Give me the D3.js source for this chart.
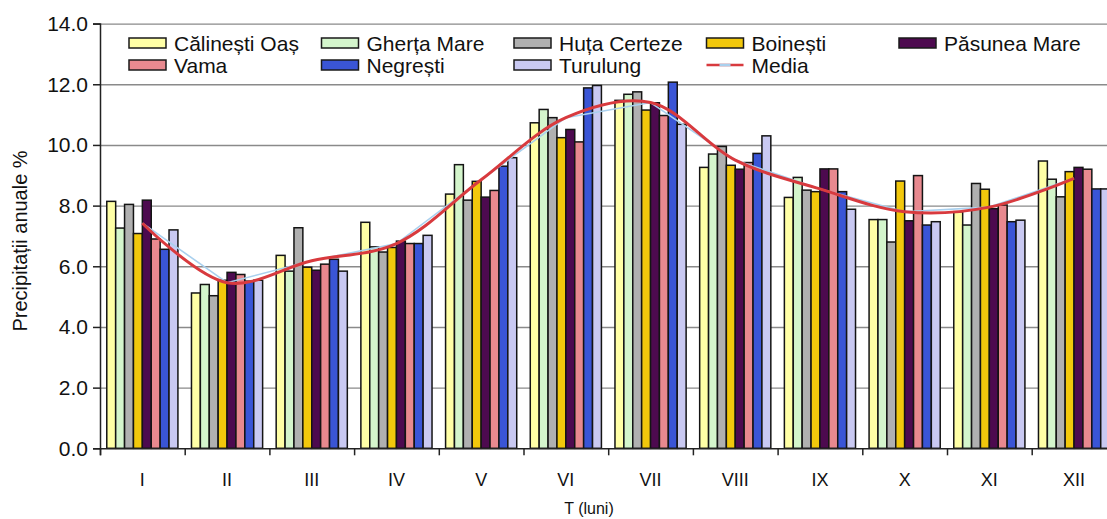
<!DOCTYPE html>
<html>
<head>
<meta charset="utf-8">
<script src="https://cdn.jsdelivr.net/npm/d3@7"></script>
<style>
  body { margin: 0; background: #fff; }
  text { font-family: "Liberation Sans", Arial, sans-serif; fill: #111; }
</style>
</head>
<body>
<div id="chart"></div>
<script>
// data (% of yearly precipitation)
var months = ["I", "II", "III", "IV", "V", "VI", "VII", "VIII", "IX", "X", "XI", "XII"];
var stations = ["Călinești Oaș", "Gherța Mare", "Huța Certeze", "Boinești", "Păsunea Mare", "Vama", "Negrești", "Turulung"];
var calinesti = [8.14, 5.12, 6.36, 7.45, 8.38, 10.73, 11.47, 9.26, 8.27, 7.54, 7.80, 9.47];
var gherta    = [7.26, 5.40, 5.84, 6.64, 9.35, 11.17, 11.67, 9.70, 8.93, 7.54, 7.36, 8.87];
var huta      = [8.04, 5.03, 7.27, 6.47, 8.18, 10.90, 11.75, 9.95, 8.51, 6.80, 8.73, 8.29];
var boinesti  = [7.08, 5.54, 5.97, 6.62, 8.80, 10.24, 11.15, 9.33, 8.46, 8.81, 8.54, 9.12];
var pasunea   = [8.18, 5.80, 5.87, 6.83, 8.28, 10.51, 11.39, 9.20, 9.21, 7.50, 7.90, 9.26];
var vama      = [6.90, 5.73, 6.07, 6.75, 8.50, 10.10, 10.97, 9.42, 9.21, 8.99, 8.02, 9.20];
var negresti  = [6.56, 5.51, 6.23, 6.75, 9.30, 11.88, 12.07, 9.72, 8.46, 7.36, 7.47, 8.55];
var turulung  = [7.20, 5.54, 5.84, 7.02, 9.58, 11.96, 10.68, 10.30, 7.88, 7.47, 7.52, 8.55];
var media     = [7.42, 5.46, 6.18, 6.75, 8.85, 10.90, 11.40, 9.50, 8.55, 7.80, 7.95, 8.90];
var yTicks = [0, 2, 4, 6, 8, 10, 12, 14];

var series = [calinesti, gherta, huta, boinesti, pasunea, vama, negresti, turulung];
var colors = ["#ffffa6", "#d4f5cc", "#b0b0b0", "#f2c80c", "#4d0a4f", "#e8898f", "#3a55d6", "#c9c9f2"];

var width = 1107, height = 519;
var left = 100, right = 100 + 12 * 84.7;   // plot runs past the right edge of the picture
var top0 = 23.6, bottom0 = 448.3;

var svg = d3.select("#chart").append("svg")
  .attr("width", width)
  .attr("height", height);

var x = d3.scaleBand().domain(months).range([left, right])
  .paddingInner(0.16).paddingOuter(0.08);
var xs = d3.scaleBand().domain(stations).range([0, x.bandwidth()]);
var xEdge = d3.scaleLinear().domain([0, 12]).range([left, right]);
var y = d3.scaleLinear().domain([0, 14]).range([bottom0, top0]);

// grid lines
svg.append("g")
  .attr("transform", "translate(" + left + ",0)")
  .call(d3.axisLeft(y).tickValues(yTicks.slice(1)).tickSize(-(right - left)).tickFormat(""))
  .call(function (g) { g.select(".domain").remove(); })
  .selectAll("line")
  .attr("stroke", "#8a8a8a")
  .attr("stroke-width", 1.4);

// bars
var groups = svg.append("g").selectAll("g")
  .data(months)
  .enter()
  .append("g")
  .attr("transform", function (d) { return "translate(" + x(d) + ",0)"; });

groups.selectAll("rect")
  .data(function (m, i) {
    return stations.map(function (s, j) { return { station: s, idx: j, value: series[j][i] }; });
  })
  .enter()
  .append("rect")
  .attr("x", function (d) { return xs(d.station); })
  .attr("width", xs.bandwidth())
  .attr("y", function (d) { return y(d.value); })
  .attr("height", function (d) { return y(0) - y(d.value); })
  .attr("fill", function (d) { return colors[d.idx]; })
  .attr("stroke", "#141414")
  .attr("stroke-width", 1.5);

// Media: pale straight line under a smoothed red one
var cx = function (d, i) { return x(months[i]) + x.bandwidth() / 2; };
svg.append("path")
  .datum(media)
  .attr("fill", "none")
  .attr("stroke", "#a9d0ee")
  .attr("stroke-width", 1.6)
  .attr("d", d3.line().x(cx).y(function (d) { return y(d); }));
svg.append("path")
  .datum(media)
  .attr("fill", "none")
  .attr("stroke", "#d83a3e")
  .attr("stroke-width", 3)
  .attr("d", d3.line().x(cx).y(function (d) { return y(d); }).curve(d3.curveCatmullRom.alpha(0.5)));

// y axis
var yAxis = svg.append("g")
  .attr("transform", "translate(" + left + ",0)")
  .call(d3.axisLeft(y).tickValues(yTicks).tickSize(7).tickPadding(5).tickFormat(d3.format(".1f")));
yAxis.select(".domain").attr("stroke", "#222").attr("stroke-width", 1.5);
yAxis.selectAll("line").attr("stroke", "#222").attr("stroke-width", 1.5);
yAxis.selectAll("text").attr("font-size", 21).attr("fill", "#111");

// x axis: ticks on month boundaries, labels in the middle
var xAxis = svg.append("g")
  .attr("transform", "translate(0," + bottom0 + ")")
  .call(d3.axisBottom(xEdge).ticks(12).tickSize(7).tickFormat(""));
xAxis.select(".domain").attr("stroke", "#222").attr("stroke-width", 1.5);
xAxis.selectAll("line").attr("stroke", "#222").attr("stroke-width", 1.5);

var xLabels = svg.append("g")
  .attr("transform", "translate(0," + bottom0 + ")")
  .call(d3.axisBottom(x).tickSize(0).tickPadding(25));
xLabels.select(".domain").remove();
xLabels.selectAll("text").attr("font-size", 18).attr("fill", "#111");

svg.append("text")
  .attr("x", 589)
  .attr("y", 514)
  .attr("text-anchor", "middle")
  .attr("font-size", 16)
  .text("T (luni)");

svg.append("text")
  .attr("transform", "translate(27," + ((top0 + bottom0) / 2 + 5) + ") rotate(-90)")
  .attr("text-anchor", "middle")
  .attr("font-size", 20)
  .text("Precipitații anuale %");

// legend
var legendItems = stations.concat(["Media"]);
var legend = svg.append("g").selectAll("g")
  .data(legendItems)
  .enter()
  .append("g")
  .attr("transform", function (d, i) {
    return "translate(" + (129 + (i % 5) * 192.5) + "," + (i < 5 ? 43 : 65) + ")";
  });

legend.filter(function (d) { return d !== "Media"; })
  .append("rect")
  .attr("x", 0)
  .attr("y", -5)
  .attr("width", 37)
  .attr("height", 10)
  .attr("fill", function (d, i) { return colors[i]; })
  .attr("stroke", "#1a1a1a")
  .attr("stroke-width", 1.5);

var mediaKey = legend.filter(function (d) { return d === "Media"; });
mediaKey.append("line")
  .attr("x1", 0).attr("x2", 37).attr("y1", 0).attr("y2", 0)
  .attr("stroke", "#d83a3e").attr("stroke-width", 2.6);
mediaKey.append("line")
  .attr("x1", 13).attr("x2", 24).attr("y1", 0).attr("y2", 0)
  .attr("stroke", "#a9d0ee").attr("stroke-width", 2.6);

legend.append("text")
  .attr("x", 45)
  .attr("dy", "0.36em")
  .attr("font-size", 21)
  .text(function (d) { return d; });
</script>
</body>
</html>
